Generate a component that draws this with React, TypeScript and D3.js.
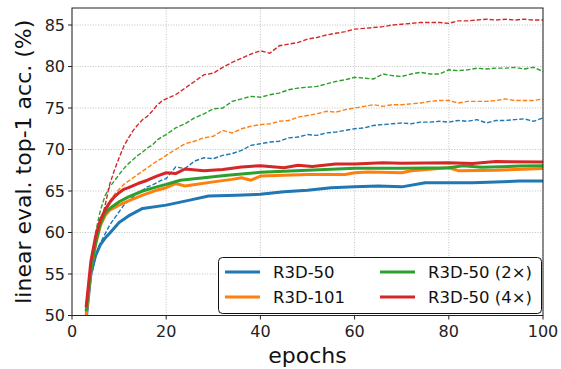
import React from "react";
import * as d3 from "d3";

const W = 561;
const H = 369;
const M = { left: 72, right: 543, top: 8, bottom: 315.5 };

const seriesNames = ["R3D-50", "R3D-101", "R3D-50 (2×)", "R3D-50 (4×)"];
const colors = ["#1f77b4", "#ff7f0e", "#2ca02c", "#d62728"];

const xTicks = [0, 20, 40, 60, 80, 100];
const yTicks = [50, 55, 60, 65, 70, 75, 80, 85];

// dashed curves share one epoch list
const dashEpochs = [
  3, 4, 5, 6, 7, 8, 9, 10, 11, 12, 13, 14, 15, 16, 17, 18, 19, 20,
  22, 24, 26, 28, 30, 32, 34, 36, 38, 40, 42, 44, 46, 48, 50, 52, 54, 56, 58, 60,
  62, 64, 66, 68, 70, 72, 74, 76, 78, 80, 82, 84, 86, 88, 90, 92, 94, 96, 98, 100,
];
const dashBlue = [
  49, 54.5, 57, 58.7, 59.8, 60.9, 61.7, 62.5, 63.3, 63.8, 64.3, 64.8, 65.1, 65.5, 65.7, 66.0, 66.3, 66.5,
  67.9, 67.7, 68.6, 69.0, 68.9, 69.3, 69.5, 69.9, 70.5, 70.7, 70.9, 71.0, 71.4, 71.5, 71.8, 71.7, 72.0, 72.1, 72.3, 72.5,
  72.6, 72.9, 73.0, 73.1, 73.2, 73.1, 73.3, 73.3, 73.4, 73.3, 73.5, 73.4, 73.6, 73.2, 73.5, 73.5, 73.6, 73.7, 73.4, 73.8,
];
const dashOrange = [
  50, 55, 59, 61.2, 62.8, 63.8, 64.6, 65.2, 65.8, 66.2, 66.6, 67.0, 67.4, 67.8, 68.2, 68.6, 68.9, 69.3,
  70.0, 70.7, 71.0, 71.4, 71.6, 72.3, 72.0, 72.5, 72.8, 73.0, 73.1, 73.4, 73.5, 73.9, 74.1, 74.3, 74.6, 74.5, 74.8, 75.0,
  75.2, 75.4, 75.2, 75.4, 75.4, 75.5, 75.6, 75.8, 75.9, 75.9, 75.6, 75.8, 75.8, 75.8, 75.9, 76.1, 75.9, 75.9, 75.9, 76.1,
];
const dashGreen = [
  50.5, 56, 60, 62.6, 64.4, 65.5, 66.2, 67.0, 67.7, 68.3, 68.8, 69.3, 69.7, 70.2, 70.5, 71.1, 71.5, 71.8,
  72.6, 73.1, 73.8, 74.3, 74.9, 75.0, 75.8, 76.1, 76.4, 76.3, 76.6, 76.8, 77.2, 77.4, 77.5, 77.6, 77.9, 78.2, 78.4, 78.7,
  78.6, 78.5, 79.1, 78.9, 78.8, 79.1, 79.3, 79.1, 79.1, 79.6, 79.5, 79.6, 79.8, 79.7, 79.8, 79.8, 79.9, 79.7, 79.9, 79.4,
];
const dashRed = [
  51, 56, 58.5, 61, 63.2, 65.8, 67.5, 69.0, 70.4, 71.4, 72.3, 73.0, 73.6, 74.0, 74.6, 75.3, 75.8, 76.1,
  76.6, 77.4, 78.2, 79.0, 79.2, 79.9, 80.5, 81.0, 81.5, 81.9, 81.6, 82.5, 82.7, 82.9, 83.3, 83.5, 83.8, 84.0, 84.2, 84.5,
  84.6, 84.7, 84.8, 85.0, 85.1, 85.2, 85.3, 85.3, 85.3, 85.2, 85.5, 85.5, 85.6, 85.7, 85.6, 85.7, 85.6, 85.7, 85.6, 85.6,
];

// solid curves
const solidBlueEpochs = [3, 4, 5, 6, 7, 8, 10, 12, 15, 20, 25, 29, 35, 40, 45, 50, 55, 60, 65, 70, 75, 80, 85, 90, 95, 100];
const solidBlue = [49.5, 55, 57.2, 58.5, 59.3, 59.9, 61.2, 62.0, 62.9, 63.3, 63.9, 64.4, 64.5, 64.6, 64.9, 65.1, 65.4, 65.5, 65.6, 65.5, 66.0, 66.0, 66.0, 66.1, 66.2, 66.2];

const solidOrangeEpochs = [3, 4, 5, 6, 7, 8, 10, 12, 15, 18, 20, 22, 24, 30, 34, 36, 38, 40, 50, 58, 60, 63, 70, 72, 80, 82, 90, 100];
const solidOrange = [50, 55.5, 58.5, 60.8, 62.0, 62.7, 63.3, 63.8, 64.5, 65.1, 65.4, 65.9, 65.6, 66.1, 66.4, 66.6, 66.3, 66.8, 67.0, 67.0, 67.2, 67.3, 67.2, 67.45, 67.8, 67.45, 67.5, 67.7];

const solidGreenEpochs = [3, 4, 5, 6, 7, 8, 10, 12, 15, 18, 20, 23, 33, 40, 50, 60, 70, 80, 83, 87, 95, 100];
const solidGreen = [50.5, 55.5, 58.7, 61, 62.3, 62.9, 63.7, 64.3, 65.0, 65.5, 65.8, 66.3, 66.9, 67.25, 67.5, 67.75, 67.75, 67.8, 68.05, 67.85, 68.0, 68.05];

const solidRedEpochs = [3, 4, 5, 6, 7, 8, 9, 10, 11, 12, 14, 16, 18, 20, 22, 24, 28, 32, 36, 40, 45, 48, 51, 56, 60, 66, 70, 80, 85, 90, 100];
const solidRed = [51, 56.5, 59.5, 61.5, 62.7, 63.6, 64.3, 64.8, 65.2, 65.4, 65.9, 66.3, 66.8, 67.2, 67.1, 67.65, 67.45, 67.6, 67.9, 68.05, 67.8, 68.1, 67.95, 68.25, 68.25, 68.4, 68.35, 68.4, 68.3, 68.55, 68.5];

const dashed = [dashBlue, dashOrange, dashGreen, dashRed];
const solids = [
  { e: solidBlueEpochs, v: solidBlue },
  { e: solidOrangeEpochs, v: solidOrange },
  { e: solidGreenEpochs, v: solidGreen },
  { e: solidRedEpochs, v: solidRed },
];

const FONT = "DejaVu Sans, sans-serif";

export default function App() {
  const x = d3.scaleLinear().domain([0, 100]).range([M.left, M.right]);
  const y = d3.scaleLinear().domain([50, 87.05]).range([M.bottom, M.top]);
  const line = d3
    .line<[number, number]>()
    .x((d) => x(d[0]))
    .y((d) => y(d[1]));

  const legendItems = [
    { i: 0, lx: 225, tx: 273, ly: 272 },
    { i: 1, lx: 225, tx: 273, ly: 297 },
    { i: 2, lx: 380, tx: 428, ly: 272 },
    { i: 3, lx: 380, tx: 428, ly: 297 },
  ];

  return (
    <svg
      width={W}
      height={H}
      style={{ position: "absolute", left: 0, top: 0, background: "#fff" }}
      fontFamily={FONT}
    >
      <defs>
        <clipPath id="plot">
          <rect x={M.left} y={M.top} width={M.right - M.left} height={M.bottom - M.top} />
        </clipPath>
      </defs>
      <rect x={0} y={0} width={W} height={H} fill="#fff" />
      {/* grid */}
      <g stroke="#b0b0b0" strokeWidth={0.8} strokeDasharray="1,1.6">
        {xTicks.map((t) => (
          <line key={"gx" + t} x1={x(t)} x2={x(t)} y1={M.top} y2={M.bottom} />
        ))}
        {yTicks.map((t) => (
          <line key={"gy" + t} x1={M.left} x2={M.right} y1={y(t)} y2={y(t)} />
        ))}
      </g>
      <g clipPath="url(#plot)">
        {dashed.map((vals, i) => (
          <path
            key={"d" + i}
            d={line(dashEpochs.map((e, k) => [e, vals[k]] as [number, number])) || ""}
            fill="none"
            stroke={colors[i]}
            strokeWidth={1.4}
            strokeDasharray="4.5,2"
          />
        ))}
        {solids.map((s, i) => (
          <path
            key={"s" + i}
            d={line(s.e.map((e, k) => [e, s.v[k]] as [number, number])) || ""}
            fill="none"
            stroke={colors[i]}
            strokeWidth={3}
            strokeLinejoin="round"
          />
        ))}
      </g>
      {/* frame */}
      <rect
        x={M.left}
        y={M.top}
        width={M.right - M.left}
        height={M.bottom - M.top}
        fill="none"
        stroke="#222"
        strokeWidth={1}
      />
      {/* ticks */}
      <g stroke="#222" strokeWidth={1}>
        {xTicks.map((t) => (
          <line key={"tx" + t} x1={x(t)} x2={x(t)} y1={M.bottom} y2={M.bottom + 4} />
        ))}
        {yTicks.map((t) => (
          <line key={"ty" + t} x1={M.left - 4} x2={M.left} y1={y(t)} y2={y(t)} />
        ))}
      </g>
      <g fontSize={16} fill="#222">
        {xTicks.map((t) => (
          <text key={"lx" + t} x={x(t)} y={337} textAnchor="middle">
            {t}
          </text>
        ))}
        {yTicks.map((t) => (
          <text key={"ly" + t} x={M.left - 7} y={y(t) + 5.8} textAnchor="end">
            {t}
          </text>
        ))}
      </g>
      <text x={(M.left + M.right) / 2} y={363} textAnchor="middle" fontSize={22} fill="#111">
        epochs
      </text>
      <text
        transform={`translate(31,${(M.top + M.bottom) / 2}) rotate(-90)`}
        textAnchor="middle"
        fontSize={22}
        fill="#111"
      >
        linear eval. top-1 acc. (%)
      </text>
      {/* legend */}
      <rect x={218.5} y={257.5} width={323} height={56} rx={4} ry={4} fill="#fff" stroke="#111" strokeWidth={1} />
      {legendItems.map((it) => (
        <g key={"leg" + it.i}>
          <line x1={it.lx} x2={it.lx + 35} y1={it.ly} y2={it.ly} stroke={colors[it.i]} strokeWidth={3} />
          <text x={it.tx} y={it.ly + 6} fontSize={16.5} fill="#111">
            {seriesNames[it.i]}
          </text>
        </g>
      ))}
    </svg>
  );
}
